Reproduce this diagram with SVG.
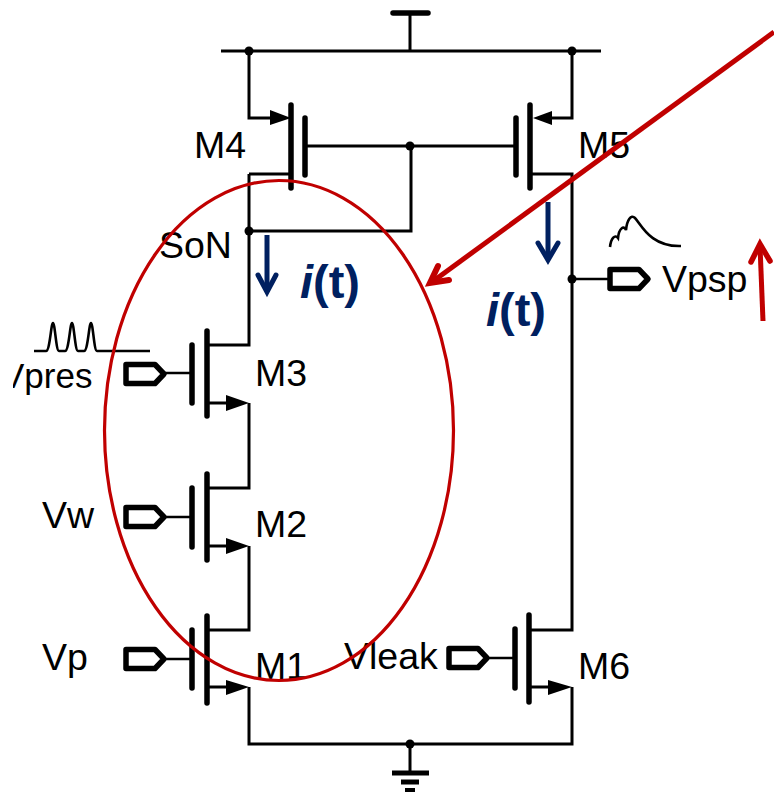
<svg xmlns="http://www.w3.org/2000/svg" width="774" height="794" viewBox="0 0 774 794">
<style>
.w{fill:none;stroke:#000;stroke-width:3;stroke-linejoin:miter}
.b{fill:none;stroke:#000;stroke-width:5.500;stroke-linecap:round}
.t{fill:none;stroke:#000;stroke-width:2.600}
.p{fill:#fff;stroke:#000;stroke-width:5.500;stroke-linejoin:round}
.d{fill:#000}
.l{font-family:"Liberation Sans",Arial,sans-serif;font-size:37.500px;fill:#000}
.i{font-family:"Liberation Sans",Arial,sans-serif;font-size:47px;font-weight:bold;fill:#002060}
.r{fill:none;stroke:#c00000}
.n{fill:none;stroke:#002060;stroke-width:5;stroke-linejoin:miter}
</style>
<defs>
<path id="port" class="p" d="M0 -9.500H29L38 0L29 9.500H0Z"/>
<clipPath id="cut"><rect x="13" y="340" width="110" height="70"/></clipPath>
</defs>
<g id="connectors">
<path class="w" d="M221 51H601M410 13V51"/>
<path class="w" d="M249 51V118H272M572 51V118H550"/>
<path class="w" d="M305 146H516M249 174H291M530 174H572V630H530"/>
<path class="w" d="M249 174V345H207M249 231H411V146"/>
<path class="w" d="M249 403V488H207M249 546V630H207M249 687V744H572V687"/>
<path class="w" d="M410 744V773"/>
<path class="t" d="M164 373H192M164 517H192M164 659H192M487 658H515M572 279H611"/>
</g>
<g id="junctions"><path d="M393 13H428" fill="none" stroke="#000" stroke-width="5.500" stroke-linecap="round"/>
<circle class="d" cx="249" cy="51" r="4.500"/><circle class="d" cx="572" cy="51" r="4.500"/><circle class="d" cx="410" cy="146" r="4.500"/><circle class="d" cx="249" cy="231" r="4.500"/><circle class="d" cx="572" cy="279" r="4.500"/><circle class="d" cx="410" cy="744" r="4.500"/></g>
<g id="M4">
<path class="b" d="M291 105V188M305 118V175"/>
<path class="d" d="M270 110L291 118L270 125Z"/>
<text class="l" x="194" y="158">M4</text>
</g>
<g id="M5">
<path class="b" d="M530 105V188M516 118V175"/>
<path class="d" d="M552 111L533 118L552 125Z"/>
<text class="l" x="578" y="158">M5</text>
</g>
<g id="M3">
<path class="b" d="M207 331V416M192 345V403"/>
<path class="w" d="M207 403H230"/><path class="d" d="M226 395L249 403L226 411Z"/>
<text class="l" x="255" y="386">M3</text>
</g>
<g id="M2">
<path class="b" d="M207 474V560M192 488V547"/>
<path class="w" d="M207 546H230"/><path class="d" d="M226 538L249 546L226 554Z"/>
<text class="l" x="255" y="537">M2</text>
</g>
<g id="M1">
<path class="b" d="M207 616V703M192 630V688"/>
<path class="w" d="M207 687H230"/><path class="d" d="M226 680L249 687L226 695Z"/>
<text class="l" x="255" y="679">M1</text>
</g>
<g id="M6">
<path class="b" d="M529 615V702M515 629V688"/>
<path class="w" d="M529 687H552"/><path class="d" d="M548 680L572 687L548 695Z"/>
<text class="l" x="578" y="679">M6</text>
</g>
<g id="Vpres">
<use href="#port" x="126" y="374"/>
<text class="l" x="1" y="388" style="font-size:35px" clip-path="url(#cut)">Vpres</text>
<path class="t" d="M34 351H46C50 351 51 323 53 323C55 323 56 351 59 351H65C69 351 70 323 72 323C74 323 75 351 78 351H84C88 351 89 323 91 323C93 323 94 351 97 351H150"/>
</g>
<g id="Vw">
<use href="#port" x="126" y="517"/>
<text class="l" x="42" y="528">Vw</text>
</g>
<g id="Vp">
<use href="#port" x="126" y="659"/>
<text class="l" x="42" y="670">Vp</text>
</g>
<g id="Vleak">
<use href="#port" x="449" y="658"/>
<text class="l" x="344" y="669">Vleak</text>
</g>
<g id="Vpsp">
<use href="#port" x="610" y="279"/>
<text class="l" x="662" y="292">Vpsp</text>
<path class="t" d="M610 247C611 238 615 234 618 238C619 228 624 225 626 230C627 220 631 214 635 218C641 224 650 247 681 246"/>
</g>
<g id="SoN"><text class="l" x="159" y="258">SoN</text></g>
<g id="gnd"><path d="M392 773H429" stroke="#000" stroke-width="5"/><path d="M401 782H419" stroke="#000" stroke-width="5"/><path d="M405 790H415" stroke="#000" stroke-width="4"/></g>
<g id="current-left"><path class="n" d="M267 235V292"/><path class="n" stroke-linecap="round" d="M258 275L267 292L276 275"/><text class="i" x="300" y="298"><tspan font-style="italic">i</tspan>(t)</text></g>
<g id="current-right"><path class="n" d="M548 202V260"/><path class="n" stroke-linecap="round" d="M538 243L548 260L558 243"/><text class="i" x="486" y="326"><tspan font-style="italic">i</tspan>(t)</text></g>
<g id="annotations">
<ellipse class="r" stroke-width="3.200" cx="279" cy="430.500" rx="174.500" ry="250"/>
<path class="r" stroke-width="5" d="M774 32L432 282"/>
<path class="r" stroke-width="6" stroke-linecap="round" stroke-linejoin="miter" d="M438 266L430 283L449 280"/>
<path class="r" stroke-width="5" d="M763 321L760 246"/>
<path class="r" stroke-width="5.500" stroke-linecap="round" d="M751 262L760 244L770 261"/>
</g>
</svg>
